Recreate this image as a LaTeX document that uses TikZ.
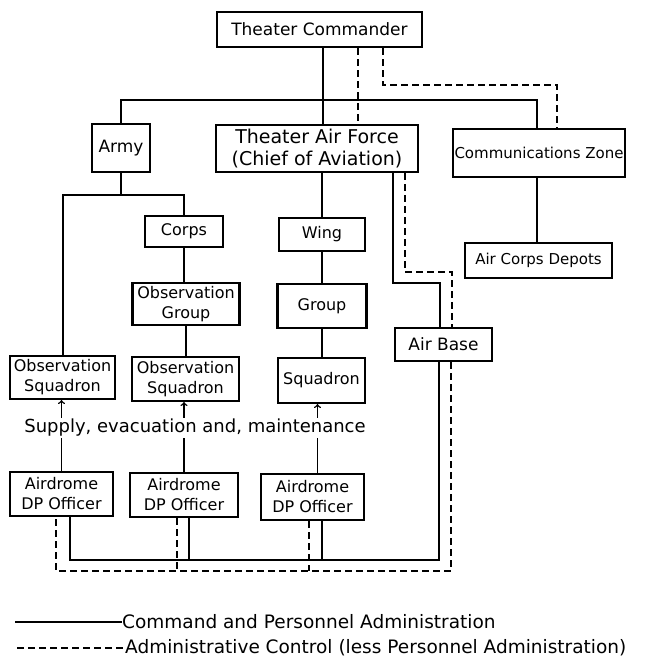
\documentclass[tikz,border=0pt]{standalone}
\usepackage{fontspec}
\setmainfont{DejaVu Sans}
\usetikzlibrary{arrows}
\tikzset{
	box/.style={draw,line width=2.2pt,inner sep=0pt,align=center,font=\fontsize{16}{20}\selectfont},
	cmd/.style={line width=2pt},
	admin/.style={line width=2.3pt,dash pattern=on 7pt off 4pt},
}
\begin{document}
\begin{tikzpicture}[x=1pt,y=-1pt]
	\useasboundingbox (0,0) rectangle (652,664);
	\node[box,minimum width=205pt,minimum height=35pt,font=\fontsize{17}{20}\selectfont] (tc) at (319.5,29.5) {Theater Commander};
	\node[box,minimum width=58pt,minimum height=48pt,font=\fontsize{17}{20}\selectfont] (army) at (121,148) {Army};
	\node[box,minimum width=202pt,minimum height=47pt,font=\fontsize{19}{22}\selectfont] (taf) at (317,148.5) {Theater Air Force\\(Chief of Aviation)};
	\node[box,minimum width=172pt,minimum height=48pt,font=\fontsize{15}{20}\selectfont] (cz) at (539,153) {Communications Zone};
	\node[box,minimum width=78pt,minimum height=31pt] (corps) at (184,231.5) {Corps};
	\node[box,minimum width=86pt,minimum height=33pt] (wing) at (322,234.5) {Wing};
	\node[box,minimum width=147pt,minimum height=35pt,font=\fontsize{15}{20}\selectfont] (acd) at (538.5,260.5) {Air Corps Depots};
	\node[box,minimum width=107pt,minimum height=42pt] (obsgrp) at (186,304) {Observation\\Group};
	\node[box,minimum width=89pt,minimum height=44pt] (group) at (322,306) {Group};
	\node[box,minimum width=97pt,minimum height=33pt,font=\fontsize{17}{20}\selectfont] (airbase) at (443.5,344.5) {Air Base};
	\node[box,minimum width=105pt,minimum height=43pt] (obssq1) at (62.5,377.5) {Observation\\Squadron};
	\node[box,minimum width=107pt,minimum height=44pt] (obssq2) at (185.5,379) {Observation\\Squadron};
	\node[box,minimum width=87pt,minimum height=45pt] (sqd) at (321.5,380.5) {Squadron};
	\node[box,minimum width=103pt,minimum height=44pt] (adp1) at (61.5,494) {Airdrome\\DP Officer};
	\node[box,minimum width=108pt,minimum height=44pt] (adp2) at (184,495) {Airdrome\\DP Officer};
	\node[box,minimum width=103pt,minimum height=46pt] (adp3) at (312.5,497) {Airdrome\\DP Officer};
	% command lines from the top
	\coordinate (bus) at (0,100);
	\coordinate (armyj) at (121,195);
	\coordinate (tafab) at (440,283);
	\draw[cmd] (army.north) |- ([xshift=-2pt]bus -| cz.north) -- ([xshift=-2pt]cz.north);
	\draw[cmd] ([xshift=3.5pt]tc.south) -- ([xshift=3.5pt]tc.south |- taf.north);
	\draw[cmd] (army.south) -- (armyj);
	\draw[cmd] (obssq1.north) |- (armyj) -| (corps.north);
	\draw[cmd] (corps.south) -- (corps.south |- obsgrp.north);
	\draw[cmd] (obsgrp.south) -- (obsgrp.south |- obssq2.north);
	\draw[cmd] (wing.north |- taf.south) -- (wing.north);
	\draw[cmd] (wing.south) -- (wing.south |- group.north);
	\draw[cmd] (group.south) -- (group.south |- sqd.north);
	\draw[cmd] ([xshift=-2pt]cz.south) -- ([xshift=-2pt]cz.south |- acd.north);
	\draw[cmd] ([xshift=76pt]taf.south) |- (tafab) -- (tafab |- airbase.north);
	% administrative control
	\coordinate (czd) at (557,85);
	\coordinate (tafabd) at (452,272);
	\draw[admin] ([xshift=38.5pt]tc.south) -- ([xshift=38.5pt]tc.south |- taf.north);
	\draw[admin] ([xshift=63.5pt]tc.south) |- (czd) -- (czd |- cz.north);
	\draw[admin] ([xshift=88pt]taf.south) |- (tafabd) -- (tafabd |- airbase.north);
	% airdromes to air base
	\coordinate (cb) at (0,560);
	\coordinate (ab) at (0,571);
	\draw[cmd] ([xshift=-4.5pt]airbase.south) |- ([xshift=8.5pt]adp1.south |- cb) -- ([xshift=8.5pt]adp1.south);
	\draw[cmd] ([xshift=5pt]adp2.south) -- ([xshift=5pt]adp2.south |- cb);
	\draw[cmd] ([xshift=9.5pt]adp3.south) -- ([xshift=9.5pt]adp3.south |- cb);
	\draw[admin] ([xshift=7.5pt]airbase.south) |- ([xshift=-5.5pt]adp1.south |- ab) -- ([xshift=-5.5pt]adp1.south);
	\draw[admin] ([xshift=-7pt]adp2.south) -- ([xshift=-7pt]adp2.south |- ab);
	\draw[admin] ([xshift=-3.5pt]adp3.south) -- ([xshift=-3.5pt]adp3.south |- ab);
	% supply arrows
	\draw[line width=1.5pt,->] (adp1.north) -- (adp1.north |- obssq1.south);
	\draw[line width=1.5pt,->] (adp2.north) -- (adp2.north |- obssq2.south);
	\draw[line width=1.5pt,->] ([xshift=-4pt]sqd.south |- adp3.north) -- ([xshift=-4pt]sqd.south);
	\node[fill=white,inner sep=1pt,font=\fontsize{18}{20}\selectfont] (supply) at (195,428) {Supply, evacuation and, maintenance};
	% legend
	\coordinate (l1) at (15,622);
	\coordinate (l2) at (17,648);
	\node[anchor=west,inner sep=0pt,font=\fontsize{18.5}{20}\selectfont] (leg1) at (122,622) {Command and Personnel Administration};
	\node[anchor=west,inner sep=0pt,font=\fontsize{18.5}{20}\selectfont] (leg2) at (125,648) {Administrative Control (less Personnel Administration)};
	\draw[cmd] (l1) -- (leg1.west);
	\draw[admin] (l2) -- (leg2.west);
\end{tikzpicture}
\end{document}
